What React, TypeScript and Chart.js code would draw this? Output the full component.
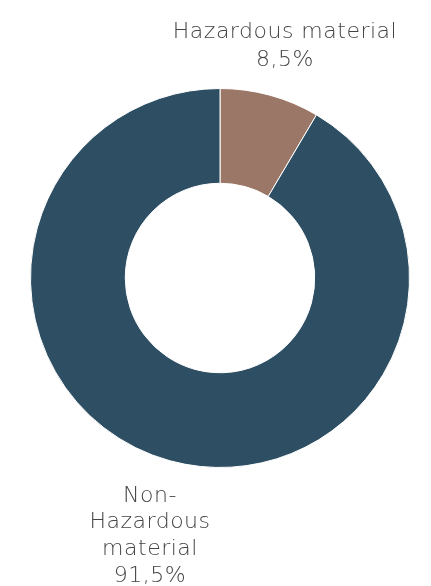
import React, { useEffect, useRef } from "react";
import { Chart, registerables } from "chart.js";

Chart.register(...registerables);

const categories: string[][] = [["Hazardous material"], ["Non-", "Hazardous", "material"]];
const values: number[] = [8.5, 91.5];
const colors: string[] = ["#9b7767", "#2e4f63"];

const fmt = (v: number) => v.toFixed(1).replace(".", ",") + "%";

const labelPlugin = {
  id: "sliceLabels",
  afterDraw(chart: any) {
    const ctx = chart.ctx;
    const meta = chart.getDatasetMeta(0);
    ctx.save();
    ctx.fillStyle = "#444444";
    ctx.font = "200 22px 'DejaVu Sans', sans-serif";
    (ctx as any).letterSpacing = "0.5px";
    ctx.textAlign = "center";
    ctx.textBaseline = "alphabetic";
    const a0 = meta.data[0];
    const lines0 = [...categories[0], fmt(values[0])];
    const x0 = a0.x + 65;
    const y0 = a0.y - a0.outerRadius - 51;
    lines0.forEach((t: string, i: number) => ctx.fillText(t, x0, y0 + i * 28));
    const a1 = meta.data[1];
    const lines1 = [...categories[1], fmt(values[1])];
    const x1 = a1.x - 70;
    const y1 = a1.y + a1.outerRadius + 34;
    lines1.forEach((t: string, i: number) => ctx.fillText(t, x1, y1 + i * 26.7));
    ctx.restore();
  },
};

export default function App() {
  const ref = useRef<HTMLCanvasElement>(null);
  useEffect(() => {
    const chart = new Chart(ref.current!, {
      type: "doughnut",
      data: {
        labels: categories.map((c) => c.join(" ")),
        datasets: [
          {
            data: values,
            backgroundColor: colors,
            borderColor: "#ffffff",
            borderWidth: 1,
          },
        ],
      },
      options: {
        responsive: false,
        animation: false,
        cutout: "50%",
        layout: { padding: { left: 30, right: 21, top: 88, bottom: 118 } },
        plugins: { legend: { display: false }, tooltip: { enabled: false } },
      },
      plugins: [labelPlugin],
    });
    return () => chart.destroy();
  }, []);
  return (
    <div style={{ position: "fixed", left: 0, top: 0, width: 431, height: 586, background: "#fff" }}>
      <canvas ref={ref} width={431} height={586} />
    </div>
  );
}
